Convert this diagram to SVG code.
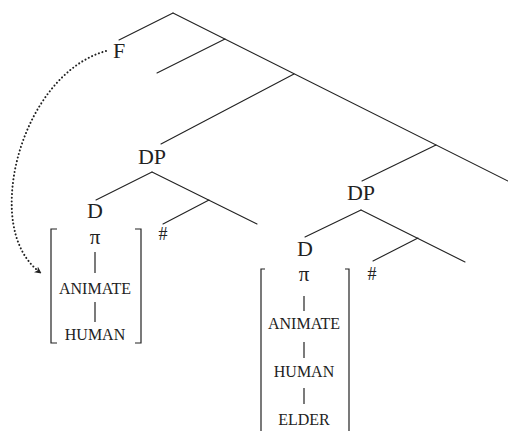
<svg xmlns="http://www.w3.org/2000/svg" width="508" height="431" viewBox="0 0 508 431">
<defs>
<style>
.e{stroke:#222;stroke-width:1.1;fill:none;stroke-linecap:round}
.b{stroke:#222;stroke-width:1.2;fill:none}
.l{font-family:"Liberation Serif","DejaVu Serif",serif;font-size:22px;fill:#222;text-anchor:middle}
.s{font-family:"Liberation Serif","DejaVu Serif",serif;font-size:16px;fill:#222;text-anchor:middle}
.p{font-family:"Liberation Serif","DejaVu Serif",serif;font-size:21px;fill:#222;text-anchor:middle}
.h{font-family:"Liberation Serif","DejaVu Serif",serif;font-size:18px;fill:#222;text-anchor:middle}
</style>
<marker id="ah" viewBox="0 0 10 10" refX="9" refY="5" markerWidth="7" markerHeight="7" orient="auto" markerUnits="userSpaceOnUse">
<path d="M0,0 L10,5 L0,10 L3,5 Z" fill="#222"/>
</marker>
</defs>
<g id="connectors">
<line class="e" x1="173" y1="13" x2="119" y2="40"/>
<line class="e" x1="173" y1="13" x2="508" y2="181"/>
<line class="e" x1="225" y1="39" x2="157" y2="73"/>
<line class="e" x1="294" y1="74" x2="161" y2="144"/>
<line class="e" x1="436" y1="145" x2="362" y2="181"/>
<line class="e" x1="152" y1="172" x2="96" y2="200"/>
<line class="e" x1="152" y1="172" x2="257" y2="224"/>
<line class="e" x1="209" y1="200" x2="163" y2="224"/>
<line class="e" x1="361" y1="210" x2="305" y2="237"/>
<line class="e" x1="361" y1="210" x2="465" y2="262"/>
<line class="e" x1="418" y1="238" x2="373" y2="261"/>
<path d="M106,51 C45,68 8,150 12,212 C14,245 28,264 41,273" stroke="#222" stroke-width="2" fill="none" stroke-dasharray="0.1 3.6" stroke-linecap="round" marker-end="url(#ah)"/>
</g>
<g id="F"><text class="l" x="119" y="58">F</text></g>
<g id="DP1"><text class="l" x="152" y="164">DP</text></g>
<g id="DP2"><text class="l" x="361" y="200">DP</text></g>
<g id="D1"><text class="l" x="95" y="218">D</text></g>
<g id="D2"><text class="l" x="305" y="256">D</text></g>
<g id="hash1"><text class="h" x="163" y="240">#</text></g>
<g id="hash2"><text class="h" x="372" y="280">#</text></g>
<g id="feat1">
<path class="b" d="M57,229 H51 V343 H57"/>
<path class="b" d="M135,229 H141 V343 H135"/>
<text class="p" x="95" y="244">π</text>
<line class="b" x1="95" y1="252" x2="95" y2="273"/>
<text class="s" x="95" y="294">ANIMATE</text>
<line class="b" x1="95" y1="302" x2="95" y2="322"/>
<text class="s" x="95" y="340">HUMAN</text>
</g>
<g id="feat2">
<path class="b" d="M265,269 H261 V431"/>
<path class="b" d="M345,269 H349 V431"/>
<text class="p" x="304" y="281">π</text>
<line class="b" x1="304" y1="296" x2="304" y2="311"/>
<text class="s" x="304" y="329">ANIMATE</text>
<line class="b" x1="304" y1="342" x2="304" y2="358"/>
<text class="s" x="304" y="377">HUMAN</text>
<line class="b" x1="304" y1="388" x2="304" y2="404"/>
<text class="s" x="304" y="425">ELDER</text>
</g>
</svg>
